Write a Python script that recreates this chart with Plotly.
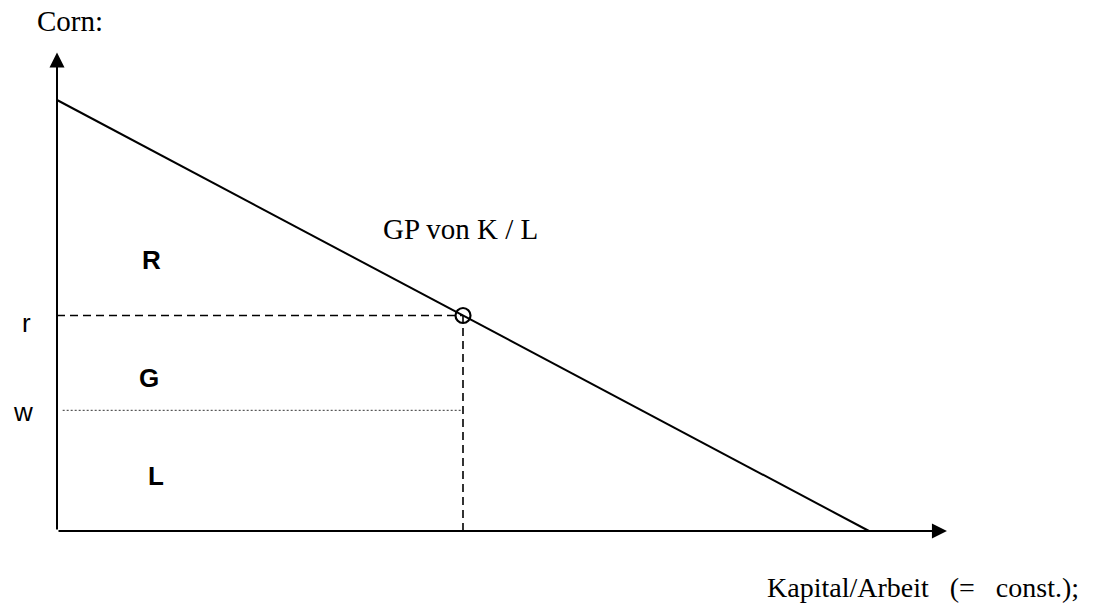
import plotly.graph_objects as go

# GP-Kurve (Grenzprodukt) und Achsen, in Modell-Einheiten
gp_x = [0, 10]
gp_y = [10, 0]
kl_point = 5      # K/L
r_level = 5       # Profitrate
w_level = 2.8     # Lohn
w_start = 0.07
x_axis_end = 10.96
y_axis_end = 11.1

# Beschriftungen
region_labels = ["R", "G", "L"]
region_x = [1.16, 1.13, 1.22]
region_y = [6.29, 3.55, 1.28]

# Abbildung Modell-Einheiten -> Pixel
PX_X = 81.2
PX_Y = 43.1
ORIGIN_X = 57
ORIGIN_Y = 531
W, H = 1094, 605

serif = "Liberation Serif, Times New Roman, serif"
sans = "Liberation Sans, Arial, sans-serif"

fig = go.Figure()

fig.add_trace(go.Scatter(x=gp_x, y=gp_y, mode='lines', line=dict(color='black', width=2), hoverinfo='skip'))

# gestrichelte Linien bei r und K/L
fig.add_trace(go.Scatter(x=[0, kl_point], y=[r_level, r_level], mode='lines',
                         line=dict(color='black', width=1.6, dash='8px,5px'), hoverinfo='skip'))
fig.add_trace(go.Scatter(x=[kl_point, kl_point], y=[0, r_level], mode='lines',
                         line=dict(color='black', width=1.6, dash='8px,5px'), hoverinfo='skip'))
# gepunktete Linie bei w
fig.add_trace(go.Scatter(x=[w_start, kl_point], y=[w_level, w_level], mode='lines',
                         line=dict(color='#333333', width=1, dash='2px,2px'), hoverinfo='skip'))

# Punkt
fig.add_trace(go.Scatter(x=[kl_point], y=[r_level], mode='markers',
                         marker=dict(symbol='circle-open', size=15, line=dict(color='black', width=2.2), color='black'),
                         hoverinfo='skip'))

# Achsen mit Pfeilen
for tip, tail in [((0, y_axis_end), (0, 0)), ((x_axis_end, 0), (0, 0))]:
    fig.add_annotation(x=tip[0], y=tip[1], ax=tail[0], ay=tail[1], xref='x', yref='y', axref='x', ayref='y',
                       showarrow=True, arrowhead=2, arrowsize=1.5, arrowwidth=2, arrowcolor='black',
                       standoff=0, text='')

for lab, lx, ly in zip(region_labels, region_x, region_y):
    fig.add_annotation(x=lx, y=ly, text=f"<b>{lab}</b>", showarrow=False,
                       font=dict(family=sans, size=26, color='black'))

fig.add_annotation(x=-0.38, y=4.83, text="r", showarrow=False, font=dict(family=sans, size=26, color='black'))
fig.add_annotation(x=-0.42, y=2.76, text="w", showarrow=False, font=dict(family=sans, size=26, color='black'))
fig.add_annotation(x=0.16, y=11.83, text="Corn:", showarrow=False, font=dict(family=serif, size=29, color='black'))
fig.add_annotation(x=4.975, y=7.0, text="GP von K / L", showarrow=False, font=dict(family=serif, size=29, color='black'))
fig.add_annotation(x=10.67, y=-1.3, text="Kapital/Arbeit&nbsp;&nbsp;&nbsp;(=&nbsp;&nbsp;&nbsp;const.);", showarrow=False,
                   font=dict(family=serif, size=28, color='black'))

fig.update_xaxes(visible=False, range=[-ORIGIN_X / PX_X, (W - ORIGIN_X) / PX_X])
fig.update_yaxes(visible=False, range=[-(H - ORIGIN_Y) / PX_Y, ORIGIN_Y / PX_Y])
fig.update_layout(width=W, height=H, margin=dict(l=0, r=0, t=0, b=0),
                  plot_bgcolor='white', paper_bgcolor='white', showlegend=False)

fig.write_html("out.html", config={'displayModeBar': False},
               post_script="document.body.style.margin='0';")
